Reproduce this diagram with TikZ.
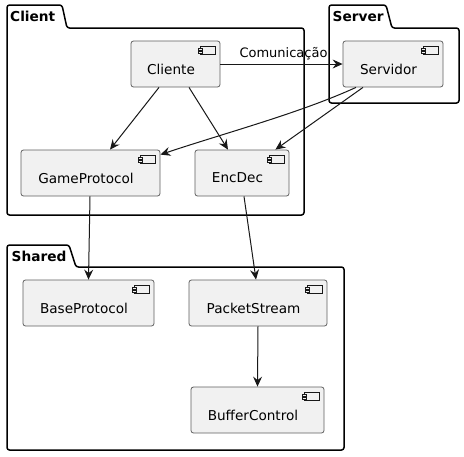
\documentclass[tikz,border=0pt]{standalone}
\usepackage{fontspec}
\setmainfont{DejaVu Sans}
\usetikzlibrary{arrows.meta,calc}
\definecolor{compfill}{HTML}{F1F1F1}
\definecolor{compline}{HTML}{5F5F5F}
\definecolor{edgecol}{HTML}{181818}
\tikzset{
  comp/.style={draw=compline, fill=compfill, line width=0.8pt, rounded corners=2.5pt, inner sep=0pt},
  complabel/.style={font=\fontsize{13.6}{16}\selectfont, text=black},
  pkg/.style={draw=black, line width=1.5pt, rounded corners=2.5pt, line join=round},
  pkglabel/.style={font=\fontsize{13.7}{16}\selectfont\bfseries, anchor=west, inner sep=0pt},
  edge/.style={draw=edgecol, line width=1pt, -{Stealth[length=10pt,width=9pt,inset=3.5pt]}},
  iconline/.style={draw=edgecol, line width=0.6pt, fill=compfill},
  compicon/.pic={
    \path[iconline] (0,0) rectangle (15,8);
    \path[iconline] (-2.5,1.5) rectangle (2,3.5);
    \path[iconline] (-2.5,4.5) rectangle (2,6.5);
  }
}
\newcommand{\mkcomp}[5]{% name, cx, cy, w, label
  \node[comp, minimum width=#4, minimum height=46] (#1) at (#2,#3) {};
  \node[complabel] (#1-l) at ($(#1.center)+(-4.5,5)$) {#5};
  \pic at ([shift={(-20,6)}]#1.north east) {compicon};
}
\begin{document}
\begin{tikzpicture}[x=1pt,y=-1pt]
\useasboundingbox (0,0) rectangle (464,456);
\fill[white] (0,0) rectangle (464,456);

% packages
\draw[pkg] (7,100) -- (7,5) -- (62,5) -- (67,28) -- (304,28) -- (304,215) -- (7,215) -- cycle;
\node[pkglabel] (pclient) at (10,16.5) {Client};
\draw[pkg] (329,60) -- (329,5) -- (386,5) -- (392,28) -- (459,28) -- (459,103) -- (329,103) -- cycle;
\node[pkglabel] (pserver) at (332.5,16.5) {Server};
\draw[pkg] (7,350) -- (7,245) -- (69,245) -- (76,267) -- (344,267) -- (344,450) -- (7,450) -- cycle;
\node[pkglabel] (pshared) at (11.5,256.5) {Shared};

% components
\mkcomp{cli}{175.5}{64}{89}{Cliente}
\mkcomp{gp}{90.5}{173}{139}{GameProtocol}
\mkcomp{ed}{242}{173}{94}{EncDec}
\mkcomp{srv}{393}{64}{100}{Servidor}
\mkcomp{bp}{88.5}{303}{131}{BaseProtocol}
\mkcomp{ps}{258}{303}{138}{PacketStream}
\mkcomp{bc}{257.5}{410}{133}{BufferControl}

% connectors
\draw[edge] (cli.east) -- (srv.west) node[pos=0.5, above=2pt, font=\fontsize{13}{15}\selectfont, xshift=2pt, inner sep=1pt] (comlbl) {Comunicação};
\draw[edge] ($(cli.south)+(-16.5,0)$) -- ($(gp.north)+(19.5,0)$);
\draw[edge] ($(cli.south)+(13.5,0)$) -- ($(ed.north)+(-14,0)$);
\draw[edge] ($(srv.south)+(-37,0)$) .. controls (300,113) and (225,133) .. ($(gp.north east)+(0,5)$);
\draw[edge] ($(srv.south)+(-30,0)$) -- ($(ed.north east)+(-14,0)$);
\draw[edge] ($(gp.south)+(-0.5,0)$) -- (bp.north);
\draw[edge] ($(ed.south)+(2,0)$) -- ($(ps.north)+(-2,0)$);
\draw[edge] (ps.south) -- (bc.north);
\end{tikzpicture}
\end{document}
